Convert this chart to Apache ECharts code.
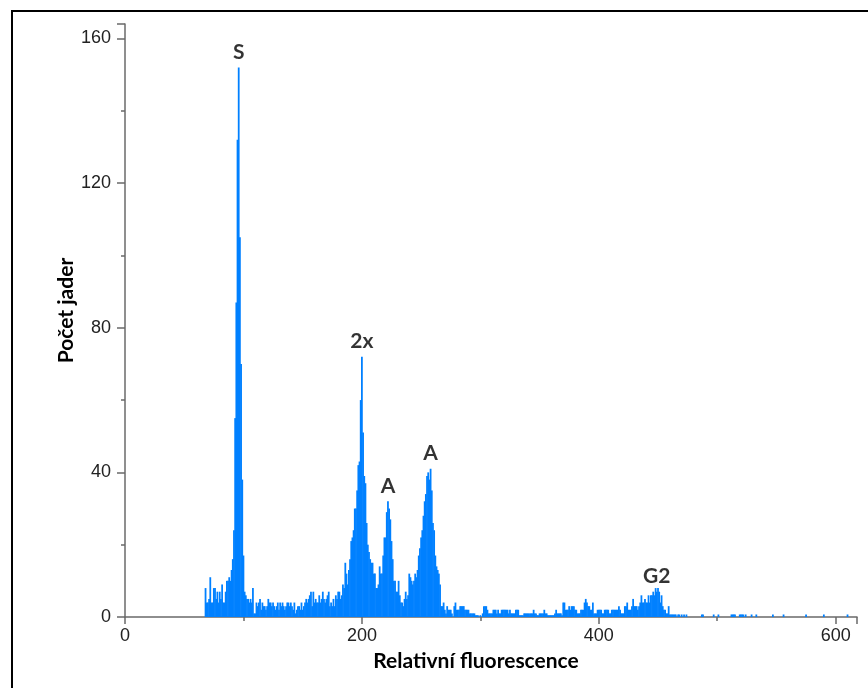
<!DOCTYPE html>
<html>
<head>
<meta charset="utf-8">
<script src="https://cdn.jsdelivr.net/npm/echarts@6/dist/echarts.min.js"></script>
<style>
  html, body { margin: 0; padding: 0; background: #fff; }
  #chart { width: 868px; height: 688px; }
</style>
</head>
<body>
<div id="chart"></div>
<script>
// Histogram of nuclei counts per fluorescence channel (1-channel bins)
const firstChannel = 68;
const counts = [
  8, 4, 4, 5, 11, 4, 4, 8, 8, 5,          // 68
  7, 4, 7, 5, 9, 4, 4, 7, 10, 10,         // 78
  11, 10, 13, 16, 24, 55, 87, 132, 152, 105, // 88
  70, 38, 17, 7, 6, 5, 5, 4, 5, 4,        // 98
  8, 1, 1, 4, 3, 4, 5, 2, 4, 3,           // 108
  3, 2, 3, 5, 4, 4, 3, 4, 3, 2,           // 118
  3, 4, 2, 4, 3, 4, 3, 2, 3, 4,           // 128
  4, 3, 4, 3, 2, 4, 1, 2, 3, 3,           // 138
  2, 4, 2, 3, 4, 5, 4, 5, 6, 7,           // 148
  3, 7, 4, 5, 4, 4, 6, 4, 5, 7,           // 158
  5, 4, 5, 6, 7, 3, 4, 3, 5, 3,           // 168
  6, 5, 7, 7, 5, 6, 9, 8, 15, 12,         // 178
  9, 13, 16, 21, 22, 24, 30, 30, 35, 42,  // 188
  43, 60, 72, 51, 39, 37, 26, 20, 18, 16, // 198
  15, 15, 12, 12, 8, 8, 9, 14, 12, 12,    // 208
  17, 22, 22, 29, 32, 30, 27, 21, 16, 10, // 218
  10, 7, 7, 10, 6, 4, 4, 3, 5, 7,         // 228
  5, 6, 12, 11, 10, 9, 10, 12, 11, 13,    // 238
  17, 19, 22, 24, 28, 32, 34, 39, 40, 38, // 248
  41, 35, 26, 24, 17, 14, 13, 12, 9, 3,   // 258
  3, 4, 2, 1, 3, 2, 2, 2, 1, 0,           // 268
  3, 4, 2, 2, 2, 3, 3, 3, 3, 2,           // 278
  2, 2, 2, 1, 1, 1, 1, 1, 0.5, 0.5,       // 288
  0.5, 0, 0.5, 0, 1, 3, 3, 3, 2, 1,       // 298
  1, 1, 1, 2, 2, 2, 1, 2, 1, 1,           // 308
  2, 2, 2, 2, 2, 2, 1, 2, 1, 1,           // 318
  1, 1, 2, 2, 2, 0.5, 0.5, 0.5, 0.5, 1,   // 328
  1, 1, 1, 1, 1, 1, 1, 2, 1, 1,           // 338
  0.5, 0.5, 1, 1, 1, 1, 2, 1, 1, 0.5,     // 348
  0.5, 0.5, 0.5, 0.5, 0.5, 1, 2, 1, 1, 1, // 358
  1, 0.5, 4, 4, 2, 2, 2, 3, 2, 3,         // 368
  3, 3, 2, 2, 1, 1, 1, 2, 2, 2,           // 378
  4, 5, 4, 3, 3, 2, 2, 4, 1, 1,           // 388
  1, 2, 2, 2, 2, 1, 1, 2, 2, 2,           // 398
  2, 1, 1, 2, 2, 2, 2, 2, 2, 3,           // 408
  2, 1, 1, 1, 3, 3, 4, 2, 2, 2,           // 418
  3, 5, 3, 3, 3, 2, 3, 4, 6, 4,           // 428
  4, 5, 4, 4, 6, 4, 6, 6, 7, 6,           // 438
  8, 7, 8, 7, 4, 6, 3, 2, 2, 1,           // 448
  1, 3, 0.7, 0.7, 0.7, 0.7, 0.7, 0.7, 0, 0.7, // 458
  0.7, 0, 0.7                             // 468
];
// Sparse single events in the high channels
const tailChannels = [472, 474, 487, 488, 497, 501, 512, 513, 514, 515, 519, 520, 521, 522, 524, 529, 533, 547, 556, 575, 590, 610];
const tailCounts   = [0.7, 0.7, 0.7, 0.7, 0.7, 0.7, 0.7, 0.7, 0.7, 0.7, 0.7, 0.7, 0.7, 0.7, 0.7, 0.7, 0.7, 0.7, 0.7, 0.7, 0.7, 0.7];

// Peak annotations
const peakNames = ['S', '2x', 'A', 'A', 'G2'];
const peakChannels = [96, 200, 222, 258, 449];

const xAxisTitle = 'Relativní fluorescence';
const yAxisTitle = 'Počet jader';

const histogram = counts.map((v, i) => [firstChannel + i, v])
  .concat(tailChannels.map((c, i) => [c, tailCounts[i]]));

const countAt = c => counts[c - firstChannel];
const peakPoints = peakChannels.map(c => [c, countAt(c)]);

const axisGrey = '#6a6a6a';
const labelFont = { fontFamily: 'Liberation Sans', fontSize: 18, color: '#222' };
const titleFont = { fontFamily: 'Lato', fontWeight: 'bold', fontSize: 21, color: '#000' };

const chart = echarts.init(document.getElementById('chart'), null, { renderer: 'canvas' });
chart.setOption({
  animation: false,
  backgroundColor: '#fff',
  grid: { left: 125, top: 24, width: 732, height: 593, containLabel: false },
  xAxis: {
    type: 'value', min: 0, max: 618, interval: 200,
    name: xAxisTitle, nameLocation: 'middle', nameGap: 34,
    nameTextStyle: Object.assign({ padding: [0, 30, 0, 0] }, titleFont),
    axisLine: { show: true, onZero: false, lineStyle: { color: axisGrey, width: 1.5 } },
    axisTick: { show: true, length: 7, lineStyle: { color: axisGrey, width: 1.5 } },
    minorTick: { show: true, splitNumber: 2, length: 4, lineStyle: { color: axisGrey, width: 1.5 } },
    axisLabel: Object.assign({ margin: 10, showMaxLabel: false }, labelFont),
    splitLine: { show: false }
  },
  yAxis: {
    type: 'value', min: 0, max: 164, interval: 40,
    name: yAxisTitle, nameLocation: 'middle', nameGap: 48, nameMoveOverlap: false,
    nameTextStyle: Object.assign({ padding: [0, 0, 0, 20] }, titleFont),
    axisLine: { show: true, onZero: false, lineStyle: { color: axisGrey, width: 1.5 } },
    axisTick: { show: true, length: 8, lineStyle: { color: axisGrey, width: 1.5 } },
    minorTick: { show: true, splitNumber: 2, length: 4, lineStyle: { color: axisGrey, width: 1.5 } },
    axisLabel: Object.assign({ margin: 14, showMaxLabel: false }, labelFont),
    splitLine: { show: false }
  },
  series: [
    {
      type: 'custom',
      data: histogram,
      encode: { x: 0, y: 1 },
      renderItem: (params, api) => {
        const ch = api.value(0);
        const top = api.coord([ch - 0.5, api.value(1)]);
        const base = api.coord([ch + 0.5, 0]);
        // slight overlap so neighbouring bins render as one solid area
        return {
          type: 'rect',
          shape: { x: top[0] - 0.3, y: top[1], width: base[0] - top[0] + 0.6, height: base[1] - top[1] },
          style: { fill: '#0080ff' }
        };
      }
    },
    {
      type: 'scatter',
      data: peakPoints,
      symbolSize: 0,
      silent: true,
      label: {
        show: true,
        position: 'top',
        distance: 5,
        formatter: p => peakNames[p.dataIndex],
        fontFamily: 'Lato', fontWeight: 'bold', fontSize: 21, color: '#000'
      }
    }
  ],
  graphic: [
    { type: 'line', shape: { x1: 12, y1: 11, x2: 868, y2: 11 }, style: { stroke: '#000', lineWidth: 2 } },
    { type: 'line', shape: { x1: 12, y1: 10, x2: 12, y2: 688 }, style: { stroke: '#000', lineWidth: 2 } }
  ]
});
</script>
</body>
</html>
